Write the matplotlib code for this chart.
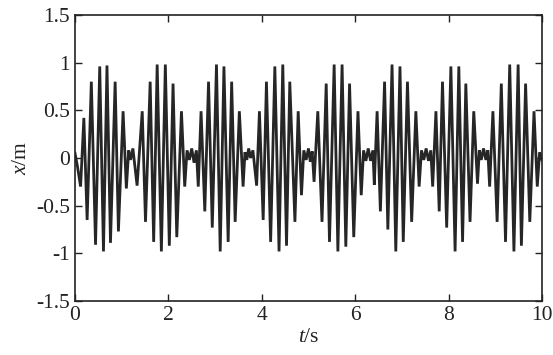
import matplotlib
matplotlib.use("Agg")
import matplotlib.pyplot as plt

# extrema of the displacement signal (t in s, x in m)
t_pts = [0.00, 0.05, 0.12, 0.19, 0.26, 0.35, 0.44, 0.53, 0.61, 0.685, 0.76, 0.86, 0.93, 1.03, 1.10,
         1.15, 1.19, 1.24, 1.33, 1.44, 1.51, 1.61, 1.685, 1.76, 1.85, 1.935, 2.02, 2.10, 2.18, 2.28, 2.35,
         2.40, 2.45, 2.50, 2.55, 2.60, 2.64, 2.70, 2.78, 2.86, 2.94, 3.03, 3.11, 3.19, 3.28, 3.355, 3.43,
         3.52, 3.60, 3.64, 3.68, 3.72, 3.76, 3.81, 3.89, 3.95, 4.03, 4.10, 4.19, 4.28, 4.37, 4.45, 4.53,
         4.60, 4.71, 4.78, 4.85, 4.90, 4.95, 5.00, 5.04, 5.08, 5.12, 5.20, 5.29, 5.38, 5.45, 5.55, 5.63,
         5.72, 5.80, 5.88, 5.97, 6.06, 6.13, 6.18, 6.23, 6.28, 6.33, 6.38, 6.41, 6.47, 6.54, 6.63, 6.70,
         6.79, 6.87, 6.96, 7.03, 7.12, 7.21, 7.30, 7.37, 7.42, 7.47, 7.52, 7.57, 7.62, 7.66, 7.73, 7.80,
         7.87, 7.96, 8.05, 8.14, 8.22, 8.30, 8.37, 8.46, 8.54, 8.62, 8.66, 8.70, 8.75, 8.80, 8.84, 8.88,
         8.95, 9.04, 9.13, 9.22, 9.31, 9.40, 9.49, 9.56, 9.65, 9.74, 9.83, 9.90, 9.95, 10.00]
x_pts = [0.05, -0.08, -0.30, 0.42, -0.65, 0.80, -0.91, 0.96, -0.98, 0.97, -0.89, 0.80, -0.77, 0.49, -0.32,
         0.08, -0.02, 0.10, -0.29, 0.49, -0.67, 0.80, -0.88, 0.98, -0.98, 0.98, -0.92, 0.78, -0.83, 0.49, -0.30,
         0.08, -0.02, 0.10, -0.05, 0.08, -0.30, 0.49, -0.56, 0.80, -0.73, 0.98, -0.98, 0.96, -0.88, 0.80, -0.67,
         0.49, -0.30, 0.06, -0.02, 0.10, 0.00, 0.08, -0.29, 0.49, -0.65, 0.80, -0.88, 0.96, -0.98, 0.98, -0.92,
         0.80, -0.67, 0.49, -0.39, 0.08, -0.02, 0.10, -0.04, 0.07, -0.25, 0.49, -0.67, 0.78, -0.88, 0.98, -0.98,
         0.98, -0.93, 0.78, -0.83, 0.49, -0.39, 0.08, -0.03, 0.10, -0.03, 0.08, -0.28, 0.49, -0.56, 0.80, -0.75,
         0.98, -0.98, 0.96, -0.88, 0.80, -0.67, 0.49, -0.30, 0.08, -0.02, 0.10, -0.03, 0.08, -0.30, 0.49, -0.56,
         0.80, -0.73, 0.96, -0.98, 0.96, -0.88, 0.78, -0.67, 0.49, -0.27, 0.08, -0.02, 0.10, -0.02, 0.08, -0.30,
         0.49, -0.67, 0.78, -0.88, 0.98, -0.98, 0.98, -0.92, 0.78, -0.67, 0.49, -0.30, 0.06, -0.02]

x_ticks = [0, 2, 4, 6, 8, 10]
y_ticks = [-1.5, -1, -0.5, 0, 0.5, 1, 1.5]
y_tick_labels = ["-1.5", "-1", "-0.5", "0", "0.5", "1", "1.5"]

plt.rcParams['font.family'] = ['Liberation Serif', 'DejaVu Serif']
plt.rcParams['mathtext.fontset'] = 'custom'
plt.rcParams['mathtext.rm'] = 'Liberation Serif'
plt.rcParams['mathtext.it'] = 'Liberation Serif:italic'

fig = plt.figure(figsize=(5.53, 3.55), dpi=100)
ax = fig.add_axes([0.1356, 0.152, 0.8444, 0.806])
ax.plot(t_pts, x_pts, color='#262626', lw=2.0, solid_joinstyle='miter')

ax.set_xlim(0, 10)
ax.set_ylim(-1.5, 1.5)
ax.set_xticks(x_ticks)
ax.set_xticklabels([str(v) for v in x_ticks])
ax.set_yticks(y_ticks)
ax.set_yticklabels(y_tick_labels)
ax.tick_params(direction='in', top=True, right=True, labelsize=15.5, length=5, width=1, colors='#222222')
for s in ax.spines.values():
    s.set_linewidth(1.2)
    s.set_color('#222222')
ax.set_xlabel(r'$\it{t}$/s', fontsize=15.5, labelpad=2, color='#222222')
ax.set_ylabel(r'$\it{x}$/m', fontsize=15.5, labelpad=4, color='#222222')

fig.savefig('out.png', dpi=100)
